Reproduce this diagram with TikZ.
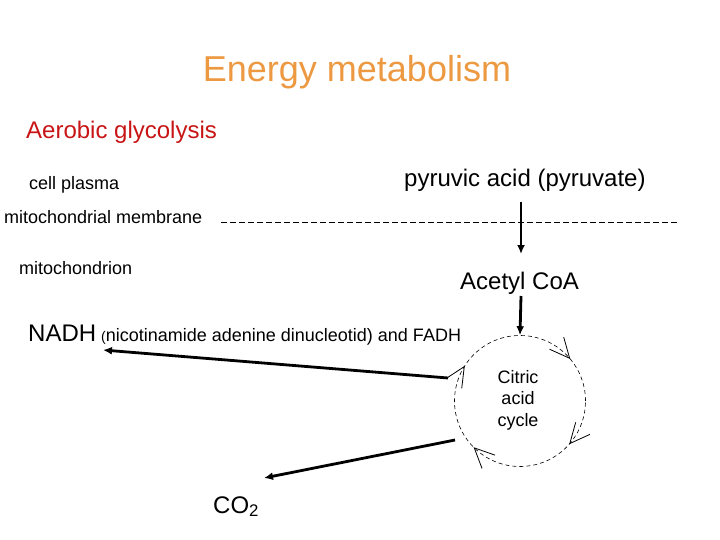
\documentclass[tikz,border=0pt]{standalone}
\usepackage{fontspec}
\setmainfont{Liberation Sans}
\usetikzlibrary{arrows.meta,calc}
\definecolor{titleorange}{RGB}{236,153,66}
\definecolor{redtext}{RGB}{200,20,20}
\tikzset{
  txt/.style={inner sep=0pt, anchor=base west},
  fsA/.style={font=\fontsize{18}{21.5}\selectfont},
  fsB/.style={font=\fontsize{24}{28}\selectfont},
  bigarrow/.style={line width=2.8pt, -{Latex[length=9pt,width=8pt]}},
  barb/.style={line width=0.8pt},
}
\begin{document}
\begin{tikzpicture}[x=1pt,y=-1pt]
\useasboundingbox (0,0) rectangle (720,540);
\node[txt, anchor=base, text=titleorange, font=\fontsize{36}{43}\selectfont] (title) at (357,82) {Energy metabolism};
\node[txt, fsB, text=redtext] (aer) at (26,139) {Aerobic glycolysis};
\node[txt, fsA] (cp) at (29,190) {cell plasma};
\node[txt, fsB] (pyr) at (404,187) {pyruvic acid (pyruvate)};
\node[txt, fsA] (mm) at (4,224) {mitochondrial membrane};
\node[txt, fsA] (mito) at (19,274) {mitochondrion};
\node[txt, fsB] (acoa) at (460,289) {Acetyl CoA};
\node[txt, fsB] (nadh) at (28,341) {NADH};
\node[txt, fsA] (nadhx) at (101,341) {{\fontsize{14}{16}\selectfont(}nicotinamide adenine dinucleotid) and FADH};
\node[txt, fsB] (co2) at (213,513) {CO\textsubscript{2}};
% membrane
\coordinate (m1) at (221,222);
\coordinate (m2) at (678,222);
\draw[line width=0.7pt, dash pattern=on 6pt off 3pt] (m1) -- (m2);
% citric acid cycle
\node[circle, draw, line width=0.6pt, dash pattern=on 4pt off 3pt, minimum size=131pt, inner sep=0pt] (cyc) at (520,401) {};
\node[align=center, fsA, inner sep=0pt] (cyctxt) at (518,400) {Citric\\acid\\cycle};
% arrowheads on the cycle
\foreach \a/\n in {-40.7/t1, 40.5/t2, 134.3/t3, 211.7/t4}{
  \path (cyc.center) ++(\a:65.5) coordinate (\n);
  \draw[barb] ($(\n)+(\a-90+25:22)$) -- (\n) -- ($(\n)+(\a-90-25:22)$);
}
% vertical arrows
\coordinate (v1) at (521,202);
\coordinate (v2) at (521,254);
\coordinate (v3) at (521,296);
\draw[bigarrow] (v1) -- (v2);
\draw[bigarrow] (v3) -- (cyc.north);
% NADH arrow
\coordinate (n1) at (448,378);
\coordinate (n2) at (103,350);
\draw[bigarrow] (n1) -- (n2);
% CO2 arrow
\coordinate (c1) at (455,440);
\coordinate (c2) at (264,478);
\draw[bigarrow] (c1) -- (c2);
\end{tikzpicture}
\end{document}
